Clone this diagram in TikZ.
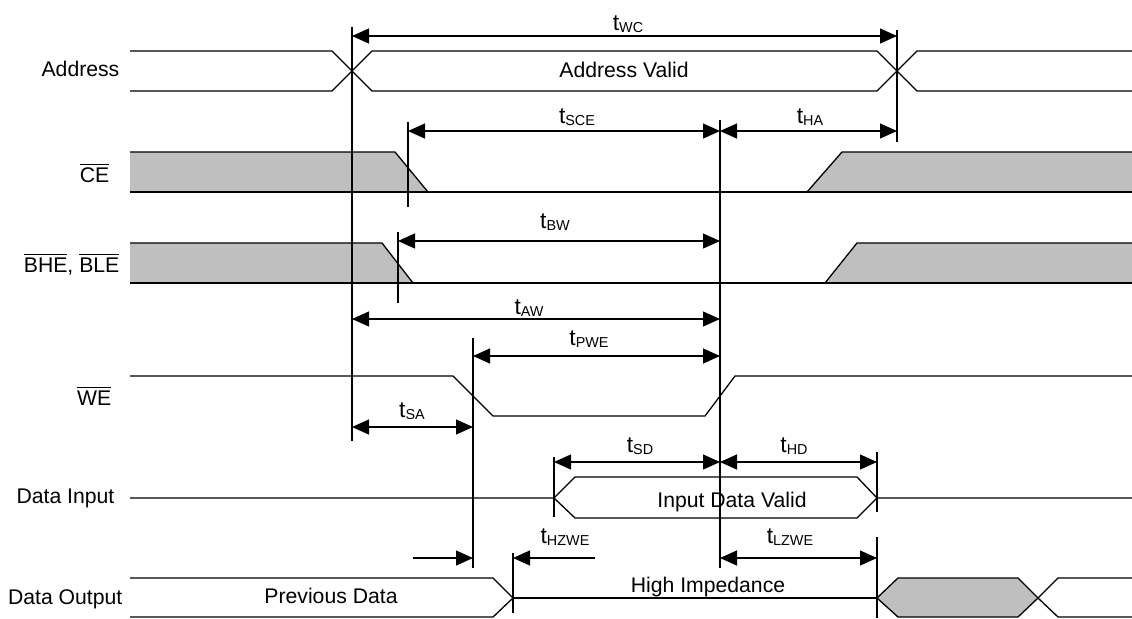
\documentclass[tikz,border=0pt]{standalone}
\usepackage{fontspec}
\setmainfont{Liberation Sans}
\usetikzlibrary{arrows.meta}
\newcommand{\tsub}[1]{{\fontsize{11.4}{12}\selectfont t}\raisebox{-1pt}{\fontsize{7.2}{8}\selectfont #1}}
\newcommand{\ovl}[1]{$\overline{\mbox{#1}}$}

\begin{document}
\begin{tikzpicture}[x=0.5pt, y=-0.5pt, line width=0.65pt]
	\tikzset{
	    wave/.style= {draw=black, line width=0.65pt},
	    busy/.style= {fill=gray!50},
	    markline/.style= {draw=black, line width=0.6pt},
	    dimarr/.style= {{Triangle[length=8.5pt, width=7.5pt]}-{Triangle[length=8.5pt, width=7.5pt]}, line width=0.6pt},
	    onearr/.style= {-{Triangle[length=8.5pt, width=7.5pt]}, line width=0.6pt},
	    siglabel/.style= {anchor=base east, inner sep=0pt, font=\fontsize{10.6}{12}\selectfont},
	    tlabel/.style= {anchor=base, inner sep=0pt, font=\fontsize{10.6}{12}\selectfont},
	}
	\useasboundingbox (0,0) rectangle (1132,618);
	
	% signal names
	\node[siglabel] (lAddr) at (120,76) {Address};
	\node[siglabel] (lCE) at (110,182) {\ovl{CE}};
	\node[siglabel] (lBE) at (120,272) {\ovl{BHE}, \ovl{BLE}};
	\node[siglabel] (lWE) at (112,405) {\ovl{WE}};
	\node[siglabel] (lDin) at (115,503) {Data Input};
	\node[siglabel] (lDout) at (123,604) {Data Output};
	
	% Address
	\draw[wave] (130,51) -- (332,51) -- (372,91) -- (877,91) -- (917,51) -- (1132,51);
	\draw[wave] (130,91) -- (332,91) -- (372,51) -- (877,51) -- (917,91) -- (1132,91);
	\node[tlabel] (vAddr) at (624,77) {Address Valid};
	
	% CE
	\fill[busy] (130,152) -- (395,152) -- (428,192) -- (130,192) -- cycle;
	\fill[busy] (807,192) -- (842,152) -- (1132,152) -- (1132,192) -- cycle;
	\draw[wave] (130,152) -- (395,152) -- (428,192);
	\draw[wave] (807,192) -- (842,152) -- (1132,152);
	\draw[wave] (130,192) -- (1132,192);
	
	% BHE, BLE
	\fill[busy] (130,243) -- (382,243) -- (413,283) -- (130,283) -- cycle;
	\fill[busy] (825,283) -- (857,243) -- (1132,243) -- (1132,283) -- cycle;
	\draw[wave] (130,243) -- (382,243) -- (413,283);
	\draw[wave] (825,283) -- (857,243) -- (1132,243);
	\draw[wave] (130,283) -- (1132,283);
	
	% WE
	\draw[wave] (130,376) -- (453,376) -- (493,416) -- (705,416) -- (735,376) -- (1132,376);
	
	% Data Input
	\draw[wave] (130,498) -- (554,498) -- (575,477) -- (857,477) -- (877,498) -- (1132,498);
	\draw[wave] (554,498) -- (575,518) -- (857,518) -- (877,498);
	\node[tlabel] (vDin) at (732,507) {Input Data Valid};
	
	% Data Output
	\draw[wave] (130,578) -- (493,578) -- (513,598) -- (493,617) -- (130,617);
	\draw[wave] (513,598) -- (877,598);
	\filldraw[busy, wave] (877,598) -- (898,578) -- (1018,578) -- (1038,598) -- (1018,617) -- (898,617) -- cycle;
	\draw[wave] (1038,598) -- (1058,578) -- (1132,578);
	\draw[wave] (1038,598) -- (1058,617) -- (1132,617);
	\node[tlabel] (vPrev) at (331,603) {Previous Data};
	\node[tlabel] (vHiZ) at (708,592) {High Impedance};
	
	% reference lines
	\draw[markline] (352,27) -- (352,441);
	\draw[markline] (897,30) -- (897,142);
	\draw[markline] (408,122) -- (408,207);
	\draw[markline] (720,120) -- (720,568);
	\draw[markline] (398,232) -- (398,303);
	\draw[markline] (473,338) -- (473,568);
	\draw[markline] (554,457) -- (554,517);
	\draw[markline] (877,452) -- (877,512);
	\draw[markline] (877,537) -- (877,618);
	\draw[markline] (513,553) -- (513,613);
	
	% arrow ends
	\coordinate (wcA) at (352,36);  \coordinate (wcB) at (897,36);
	\coordinate (sceA) at (408,131); \coordinate (sceB) at (720,131);
	\coordinate (haB) at (897,131);
	\coordinate (bwA) at (398,241); \coordinate (bwB) at (720,241);
	\coordinate (awA) at (352,319); \coordinate (awB) at (720,319);
	\coordinate (pweA) at (473,356); \coordinate (pweB) at (720,356);
	\coordinate (saA) at (352,427); \coordinate (saB) at (473,427);
	\coordinate (sdA) at (554,462); \coordinate (sdB) at (720,462);
	\coordinate (hdB) at (877,462);
	\coordinate (whA) at (413,558); \coordinate (whB) at (473,558);
	\coordinate (hzA) at (595,558); \coordinate (hzB) at (513,558);
	\coordinate (lzA) at (720,558); \coordinate (lzB) at (877,558);
	
	\draw[dimarr] (wcA) -- (wcB);
	\draw[dimarr] (sceA) -- (sceB);
	\draw[dimarr] (sceB) -- (haB);
	\draw[dimarr] (bwA) -- (bwB);
	\draw[dimarr] (awA) -- (awB);
	\draw[dimarr] (pweA) -- (pweB);
	\draw[dimarr] (saA) -- (saB);
	\draw[dimarr] (sdA) -- (sdB);
	\draw[dimarr] (sdB) -- (hdB);
	\draw[onearr] (whA) -- (whB);
	\draw[onearr] (hzA) -- (hzB);
	\draw[dimarr] (lzA) -- (lzB);
	
	% timing names
	\node[tlabel] (tWC) at (628,30) {\tsub{WC}};
	\node[tlabel] (tSCE) at (577,123) {\tsub{SCE}};
	\node[tlabel] (tHA) at (810,123) {\tsub{HA}};
	\node[tlabel] (tBW) at (555,228) {\tsub{BW}};
	\node[tlabel] (tAW) at (529,314) {\tsub{AW}};
	\node[tlabel] (tPWE) at (589,345) {\tsub{PWE}};
	\node[tlabel] (tSA) at (412,417) {\tsub{SA}};
	\node[tlabel] (tSD) at (640,452) {\tsub{SD}};
	\node[tlabel] (tHD) at (794,452) {\tsub{HD}};
	\node[tlabel] (tHZWE) at (565,543) {\tsub{HZWE}};
	\node[tlabel] (tLZWE) at (790,543) {\tsub{LZWE}};
\end{tikzpicture}
\end{document}
